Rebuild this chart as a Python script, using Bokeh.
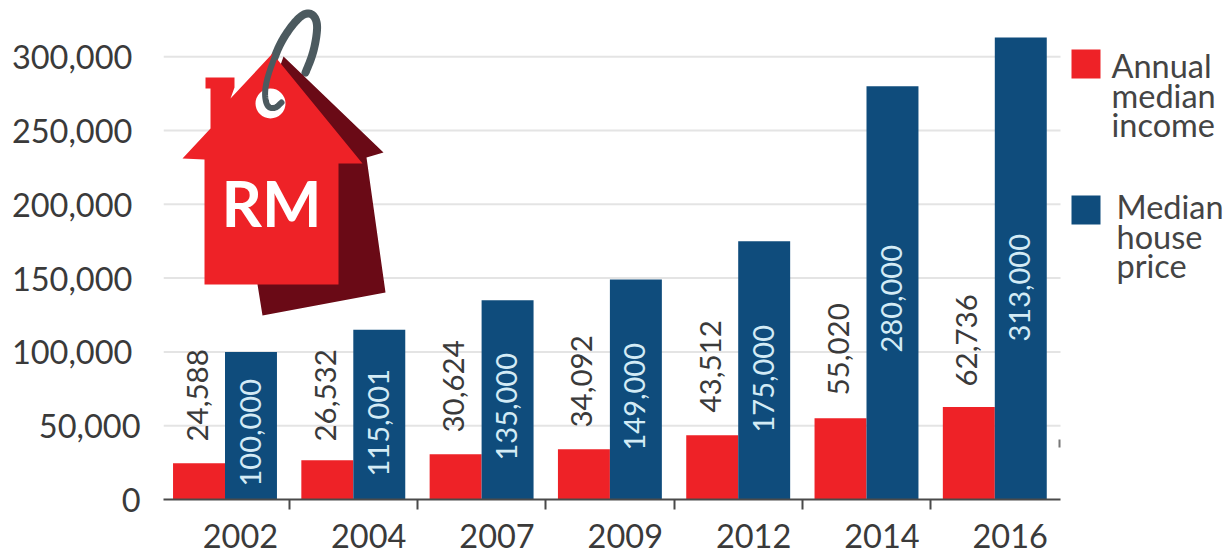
from math import pi

from bokeh.core.properties import value
from bokeh.embed import file_html
from bokeh.models import FixedTicker, Range1d
from bokeh.plotting import figure
from bokeh.resources import INLINE

# Chart values
years = ["2002", "2004", "2007", "2009", "2012", "2014", "2016"]
median_income = [24588, 26532, 30624, 34092, 43512, 55020, 62736]
median_house_price = [100000, 115001, 135000, 149000, 175000, 280000, 313000]
y_ticks = [0, 50000, 100000, 150000, 200000, 250000, 300000]
legend_income = ["Annual", "median", "income"]
legend_price = ["Median", "house", "price"]

# Page geometry: where the first group and the zero line fall, and the scale
GROUP0_PX = 224.5
GROUP_STEP_PX = 128.3
ZERO_PX = 499.0
PX_PER_UNIT = 73.8 / 50000
FRAME_LEFT = 163
AXIS_RIGHT = 1060


def sx(px):
    """Page x in pixels to group-index units."""
    return (px - GROUP0_PX) / GROUP_STEP_PX


def sy(px):
    """Page y in pixels to value units."""
    return (ZERO_PX - px) / PX_PER_UNIT


def pts(pairs):
    return [sx(a) for a, _ in pairs], [sy(b) for _, b in pairs]


def smooth(pairs, rounds=3):
    # Corner cutting, keeps the key ring free of visible kinks
    for _ in range(rounds):
        out = [pairs[0]]
        for (a, b), (c, d) in zip(pairs, pairs[1:]):
            out += [(0.75 * a + 0.25 * c, 0.75 * b + 0.25 * d),
                    (0.25 * a + 0.75 * c, 0.25 * b + 0.75 * d)]
        out.append(pairs[-1])
        pairs = out
    return pairs


FONT = "Lato"
INK = "#3a3a3a"
RED = "#ee2227"
BLUE = "#0f4c7c"
TICK_SIZE = "32.5px"

p = figure(
    width=1226, height=551, frame_width=1226 - FRAME_LEFT, frame_height=499,
    x_range=Range1d(sx(FRAME_LEFT), sx(1226)),
    y_range=Range1d(0, sy(0)),
    output_backend="svg", toolbar_location=None,
    min_border_left=FRAME_LEFT, min_border_right=0, min_border_top=0, min_border_bottom=0,
    background_fill_color="white", border_fill_color="white", outline_line_color=None,
)
p.grid.visible = False

# Value axis: a quarter-em pad pulls the six-digit labels left of the two shorter ones
p.yaxis.ticker = FixedTicker(ticks=y_ticks)
p.yaxis.major_label_overrides = {
    t: f"{t:,}" + ("\u2005" if t >= 100000 else "") for t in y_ticks
}
p.yaxis.axis_line_color = None
p.yaxis.major_tick_line_color = None
p.yaxis.minor_tick_line_color = None
p.yaxis.major_label_standoff = 17
p.yaxis.major_label_text_font = FONT
p.yaxis.major_label_text_font_size = TICK_SIZE
p.yaxis.major_label_text_color = INK

# Year axis: labels sit right of each group centre, ticks fall between groups
label_pos = [i + 0.12 for i in range(len(years))]
p.xaxis.ticker = FixedTicker(ticks=label_pos,
                             minor_ticks=[i + 0.5 for i in range(len(years) - 1)])
p.xaxis.major_label_overrides = dict(zip(label_pos, years))
p.xaxis.bounds = (sx(FRAME_LEFT), sx(AXIS_RIGHT))
p.xaxis.axis_line_color = "#4a4a4a"
p.xaxis.axis_line_width = 2
p.xaxis.major_tick_line_color = None
p.xaxis.minor_tick_line_color = "#4a4a4a"
p.xaxis.minor_tick_line_width = 2
p.xaxis.minor_tick_out = 10
p.xaxis.minor_tick_in = 0
p.xaxis.major_label_standoff = 14
p.xaxis.major_label_text_font = FONT
p.xaxis.major_label_text_font_size = TICK_SIZE
p.xaxis.major_label_text_color = INK

# Gridlines stop short of the legend column
p.segment(x0=[sx(FRAME_LEFT)] * 6, x1=[sx(AXIS_RIGHT)] * 6, y0=y_ticks[1:], y1=y_ticks[1:],
          line_color="#e4e4e4", line_width=2)

# Stray tick at the right end of the 50,000 line
p.segment(x0=[sx(1059)], x1=[sx(1059)], y0=[sy(447)], y1=[sy(439)],
          line_color="#777777", line_width=2)

# Paired bars
idx = list(range(len(years)))
BAR = 0.405
p.vbar(x=[i - BAR / 2 for i in idx], width=BAR, top=median_income, bottom=0,
       fill_color=RED, line_color=None)
p.vbar(x=[i + BAR / 2 for i in idx], width=BAR, top=median_house_price, bottom=0,
       fill_color=BLUE, line_color=None)

# Rotated value labels, each starting at its own height on the page
income_label_base_px = [441, 441, 432, 427, 412, 395, 386]
price_label_base_px = [486, 476, 460, 450, 432, 352, 341]
p.text(x=[i + sx(GROUP0_PX - 28) for i in idx], y=[sy(v) for v in income_label_base_px],
       text=[f"{v:,}" for v in median_income], angle=pi / 2,
       text_align="left", text_baseline="middle", text_font=value(FONT),
       text_font_size="29.5px", text_color=INK)
p.text(x=[i + sx(GROUP0_PX + 25) for i in idx], y=[sy(v) for v in price_label_base_px],
       text=[f"{v:,}" for v in median_house_price], angle=pi / 2,
       text_align="left", text_baseline="middle", text_font=value(FONT),
       text_font_size="29px", text_color="#d3ebf5")

# House-shaped price tag with its key ring
ring = [(305, 72), (312, 55), (316, 37), (317, 22), (312, 13), (303, 13), (292, 24),
        (280, 42), (272, 62), (266, 80), (264, 95), (267, 107), (275, 108), (281, 102)]
ring_x, ring_y = pts(smooth(ring))
GREY = "#4c5a5f"
p.line(ring_x, ring_y, line_color=GREY, line_width=8, line_cap="round", line_join="round")

x, y = pts([(283, 56), (383, 152), (366, 157), (385, 292), (262, 315), (257, 284), (250, 150)])
p.patch(x, y, fill_color="#6a0a16", line_color=None)

x, y = pts([(272, 53), (362, 163), (338, 163), (338, 284), (204, 284), (204, 159), (182, 158),
            (210, 128), (210, 88), (205, 88), (205, 77), (234, 77), (234, 87), (230, 98)])
p.patch(x, y, fill_color=RED, line_color=None)

p.circle(x=[sx(270)], y=[sy(103)], radius=15 / GROUP_STEP_PX, fill_color="white", line_color=None)

front_x, front_y = pts(smooth(ring[6:]))
p.line(front_x, front_y, line_color=GREY, line_width=6, line_cap="round", line_join="round")

p.text(x=[sx(271)], y=[sy(202)], text=["RM"], text_align="center", text_baseline="middle",
       text_font=value(FONT), text_font_style="bold", text_font_size="63px", text_color="white")

# Legend column
for top, colour in ((49, RED), (195, BLUE)):
    p.quad(left=[sx(1071)], right=[sx(1100)], top=[sy(top)], bottom=[sy(top + 29)],
           fill_color=colour, line_color=None)
for lines, left, first in ((legend_income, 1111, 65), (legend_price, 1116, 206)):
    p.text(x=[sx(left)] * 3, y=[sy(first + 29.5 * k) for k in range(3)], text=lines,
           text_align="left", text_baseline="middle", text_font=value(FONT),
           text_font_size="32.5px", text_color="#444444")

open("out.html", "w").write(file_html(p, INLINE))
